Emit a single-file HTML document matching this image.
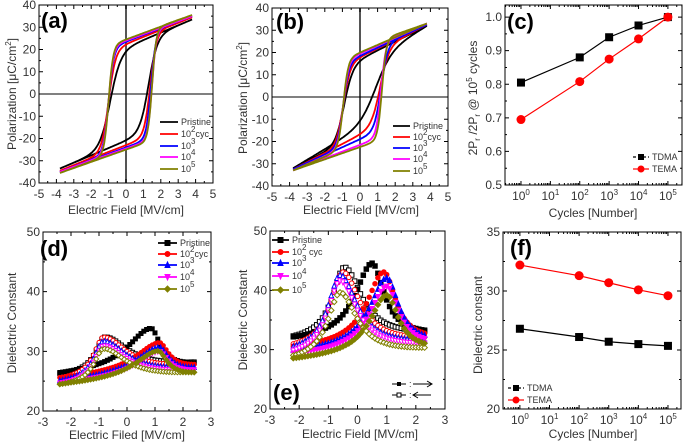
<!DOCTYPE html>
<html><head><meta charset="utf-8"><style>
html,body{margin:0;padding:0;background:#fff;width:685px;height:444px;overflow:hidden}
svg{display:block}
text{font-family:"Liberation Sans",sans-serif;fill:#333}
</style></head><body>
<svg id="s" width="685" height="444" xmlns="http://www.w3.org/2000/svg"></svg>
<script>
const S=document.getElementById('s');let H='';
function t(x,y,str,o={}){H+=`<text x="${x}" y="${y}" font-size="${o.fs||12}" text-anchor="${o.a||'middle'}" ${o.b?'font-weight="bold" style="fill:#000"':''} ${o.r?`transform="rotate(-90 ${x} ${y})"`:''}>${str}</text>`;}
function mk(p){p.X=v=>p.L+(v-p.xmin)/(p.xmax-p.xmin)*(p.R-p.L);p.Y=v=>p.B-(v-p.ymin)/(p.ymax-p.ymin)*(p.B-p.T);return p;}
function frame(p){
 H+=`<rect x="${p.L}" y="${p.T}" width="${p.R-p.L}" height="${p.B-p.T}" fill="none" stroke="#000" stroke-width="1"/>`;
 p.xt.forEach((v,i)=>{const x=p.X(v);H+=`<path d="M${x} ${p.B}v-4M${x} ${p.T}v4" stroke="#000"/>`;t(x,p.B+15,p.xl[i]);});
 if(p.xm)p.xm.forEach(v=>{const x=p.X(v);H+=`<path d="M${x} ${p.B}v-2M${x} ${p.T}v2" stroke="#000"/>`;});
 p.yt.forEach((v,i)=>{const y=p.Y(v);H+=`<path d="M${p.L} ${y}h4M${p.R} ${y}h-4" stroke="#000"/>`;t(p.L-3,y+4,p.yl[i],{a:'end'});});
 if(p.ym)p.ym.forEach(v=>{const y=p.Y(v);H+=`<path d="M${p.L} ${y}h2M${p.R} ${y}h-2" stroke="#000"/>`;});
}
function rng(a,b,s){const r=[];for(let v=a;v<=b+1e-9;v+=s)r.push(+v.toFixed(4));return r;}
const cols=['#000','#f00','#00f','#f0f','#808000'];
const sup=(b,e,a)=>`${b}<tspan dy="-5" font-size="8">${e}</tspan><tspan dy="5">${a||'\u200b'}</tspan>`;
function hyst(p,ser){
 ser.forEach((s,k)=>{const [Ec1,Ec2,A1,A2,w1,w2,P]=s;
  const s1=(P-A1)/3.8,s2=(P-A2)/3.8;let d='';
  for(let E=3.8;E>=-3.8;E-=0.05){const v=A1*Math.tanh((E+Ec1)/w1)+s1*E;d+=(d?'L':'M')+p.X(E).toFixed(1)+' '+p.Y(v).toFixed(1);}
  for(let E=-3.8;E<=3.8;E+=0.05){const v=A2*Math.tanh((E-Ec2)/w2)+s2*E;d+='L'+p.X(E).toFixed(1)+' '+p.Y(v).toFixed(1);}
  H+=`<path d="${d}" fill="none" stroke="${cols[k]}" stroke-width="1.8"/>`;});
}
function hframe(p){
 H+=`<line x1="${p.X(0)}" y1="${p.T}" x2="${p.X(0)}" y2="${p.B}" stroke="#555" stroke-width="2"/>`;
 H+=`<line x1="${p.L}" y1="${p.Y(0)}" x2="${p.R}" y2="${p.Y(0)}" stroke="#000" stroke-width="1"/>`;
}
const xh=rng(-5,5,1),yh=rng(-40,40,10);
const A=mk({L:39,R:213,T:5,B:183,xmin:-5,xmax:5,ymin:-40,ymax:40,xt:xh,xl:xh.map(String),yt:yh,yl:yh.map(String),xm:rng(-4.5,4.5,1),ym:rng(-35,35,10)});
hframe(A);
hyst(A,[[0.9,1.3,21,21,0.6,0.5,33.5],[1.0,1.4,22.5,23,0.4,0.35,34.5],[1.0,1.45,23.5,24,0.3,0.28,35],[1.0,1.5,24,24.5,0.28,0.25,35],[1.0,1.5,24.5,25,0.26,0.24,35.5]]);
frame(A);
const Bp=mk({L:272,R:448,T:8,B:186,xmin:-5,xmax:5,ymin:-40,ymax:40,xt:xh,xl:xh.map(String),yt:yh,yl:yh.map(String),xm:rng(-4.5,4.5,1),ym:rng(-35,35,10)});
hframe(Bp);
hyst(Bp,[[0.9,0.9,17,14,0.5,0.9,32],[0.95,1.15,18,17,0.4,0.5,32.5],[0.95,1.2,18.5,19,0.33,0.38,32.5],[0.95,1.2,19.5,21.5,0.3,0.28,33],[0.95,1.25,20,22.5,0.28,0.25,33]]);
frame(Bp);
function leg(x1,x2,ys,labels,markers){ys.forEach((y,i)=>{H+=`<line x1="${x1}" y1="${y}" x2="${x2}" y2="${y}" stroke="${cols[i]}" stroke-width="1.8"/>`;if(markers)marker(i,(x1+x2)/2,y,true,5);t(x2+3,y+3,labels[i],{a:'start',fs:9});});}
const labs=c=>['Pristine',sup('10','2',c),sup('10','3'),sup('10','4'),sup('10','5')];
leg(160,178,[122,134,146,157,169],labs('cyc'));
leg(393,410,[126,137,148,159,171],labs('cyc'));
function marker(k,x,y,fill,sz){const c=cols[k],f=fill?c:'#fff',r=sz/2;x=+x.toFixed(1);y=+y.toFixed(1);
 if(k==0)H+=`<rect x="${x-r}" y="${y-r}" width="${sz}" height="${sz}" fill="${f}" stroke="${c}"/>`;
 else if(k==1)H+=`<circle cx="${x}" cy="${y}" r="${r}" fill="${f}" stroke="${c}"/>`;
 else if(k==2)H+=`<path d="M${x} ${y-r-0.5}L${x+r} ${y+r}L${x-r} ${y+r}Z" fill="${f}" stroke="${c}"/>`;
 else if(k==3)H+=`<path d="M${x} ${y+r+0.5}L${x+r} ${y-r}L${x-r} ${y-r}Z" fill="${f}" stroke="${c}"/>`;
 else H+=`<path d="M${x} ${y-r-0.5}L${x+r+0.5} ${y}L${x} ${y+r+0.5}L${x-r-0.5} ${y}Z" fill="${f}" stroke="${c}"/>`;
}
function bfly(p,E0,E1,ser,gL,gT,sz){
 ser.forEach((s,k)=>{const [Ef,Pf,Eb,Pb,Lv,Rv]=s;
  const base=E=>Lv+(Rv-Lv)*(E-E0)/(E1-E0);
  const Hf=Pf-base(Ef)-0.3,Hb=Pb-base(Eb)-0.3;
  for(let E=E0;E<=E1+1e-9;E+=0.1){
   const gf=E<Ef?gL:gT, gb=E>Eb?gL:gT;
   const vf=base(E)+Hf/(1+((E-Ef)/gf)**2)-Hf*0.05;
   const vb=base(E)+Hb/(1+((E-Eb)/gb)**2)-Hb*0.05;
   marker(k,p.X(E),p.Y(vb),false,sz);marker(k,p.X(E),p.Y(vf),true,sz);
  }});
}
const xd=rng(-3,3,1),yd=[20,30,40,50];
const D=mk({L:43,R:211,T:232,B:411,xmin:-3,xmax:3,ymin:20,ymax:50,xt:xd,xl:xd.map(String),yt:yd,yl:yd.map(String),xm:rng(-2.5,2.5,1),ym:[25,35,45]});
bfly(D,-2.4,2.4,[[0.85,34.5,-0.8,33,26.2,28],[1.15,32,-0.85,33,25.5,27.6],[1.15,31.2,-0.85,32.3,25,27.1],[1.15,30.5,-0.85,31.5,24.6,26.7],[1.1,30.6,-0.85,31,24.4,26.3]],1.0,0.4,4);
frame(D);
leg(158,177,[243,254,265,277,289],labs('cyc'),true);
const Ep=mk({L:270,R:445,T:231,B:409,xmin:-3,xmax:3,ymin:20,ymax:50,xt:xd,xl:xd.map(String),yt:yd,yl:yd.map(String),xm:rng(-2.5,2.5,1),ym:[25,35,45]});
bfly(Ep,-2.2,2.3,[[0.5,45.5,-0.45,44.8,32,33],[0.9,44,-0.5,44,30.6,32],[1.0,43,-0.6,43.5,30,31.5],[1.0,41.5,-0.6,42.5,29.4,31],[1.0,40,-0.6,40.5,28.6,30.3]],0.7,0.5,4.5);
frame(Ep);
leg(272,289,[240,252,263,276,290],labs(' cyc'),true);
H+=`<line x1="392" y1="384" x2="406" y2="384" stroke="#000"/><rect x="397" y="382" width="4" height="4" fill="#000"/><text x="409" y="387" font-size="9">:</text><path d="M413 384h18M427 381l5 3l-5 3" stroke="#000" fill="none"/>`;
H+=`<line x1="392" y1="395" x2="406" y2="395" stroke="#000"/><rect x="397" y="393" width="4" height="4" fill="#fff" stroke="#000"/><text x="409" y="398" font-size="9">:</text><path d="M413 395h18M418 392l-5 3l5 3" stroke="#000" fill="none"/>`;
function logp(p,series,legY,legX){
 const xs=[0,2,3,4,5];
 [['#000',0],['#f00',1]].forEach(([c,k],i)=>{const ys=series[i];let d='';xs.forEach((x,j)=>{d+=(j?'L':'M')+p.X(x)+' '+p.Y(ys[j]);});
  H+=`<path d="${d}" fill="none" stroke="${c}" stroke-width="1.2"/>`;xs.forEach((x,j)=>{if(k==0)H+=`<rect x="${p.X(x)-4}" y="${p.Y(ys[j])-4}" width="8" height="8" fill="#000"/>`;else H+=`<circle cx="${p.X(x)}" cy="${p.Y(ys[j])}" r="4.5" fill="#f00"/>`;});});
 [['TDMA','#000',0],['TEMA','#f00',1]].forEach(([n,c,k],i)=>{const y=legY[i];H+=`<line x1="${legX}" y1="${y}" x2="${legX+16}" y2="${y}" stroke="${c}" stroke-width="1.2" ${k==0?'stroke-dasharray="3 2"':''}/>`;
  if(k==0)H+=`<rect x="${legX+5}" y="${y-3}" width="6" height="6" fill="#000"/>`;else H+=`<circle cx="${legX+8}" cy="${y}" r="3.5" fill="#f00"/>`;t(legX+19,y+3,n,{a:'start',fs:9});});
}
const minors=[];for(let d=-1;d<6;d++)for(let m=2;m<10;m++){minors.push(d+Math.log10(m));}
const Cp=mk({L:505,R:682,T:5,B:185,xmin:-0.544,xmax:5.48,ymin:0.5,ymax:1.036,xt:[0,1,2,3,4,5],xl:[0,1,2,3,4,5].map(e=>sup('10',e)),yt:[0.5,0.6,0.7,0.8,0.9,1.0],yl:['0.5','0.6','0.7','0.8','0.9','1.0'],ym:[0.55,0.65,0.75,0.85,0.95]});
Cp.xm=minors.filter(v=>v>Cp.xmin&&v<Cp.xmax);
frame(Cp);
logp(Cp,[[0.805,0.88,0.94,0.975,1.0],[0.695,0.808,0.875,0.935,1.0]],[157,169],633);
const F=mk({L:503,R:681,T:232,B:409,xmin:-0.57,xmax:5.44,ymin:20,ymax:35,xt:[0,1,2,3,4,5],xl:[0,1,2,3,4,5].map(e=>sup('10',e)),yt:[20,25,30,35],yl:['20','25','30','35'],ym:[22.5,27.5,32.5]});
F.xm=minors.filter(v=>v>F.xmin&&v<F.xmax);
frame(F);
logp(F,[[26.8,26.1,25.7,25.5,25.35],[32.2,31.3,30.7,30.1,29.6]],[388,400],508);
t(126,214,'Electric Field [MV/cm]');t(361,214,'Electric Field [MV/cm]');t(593,217,'Cycles [Number]');
t(127,439,'Electric Filed [MV/cm]');t(360,438,'Electric Field [MV/cm]');t(593,438,'Cycles [Number]');
t(16,94,'Polarization [μC/cm<tspan dy="-5" font-size="8">2</tspan><tspan dy="5">]</tspan>',{r:1});
t(247,98,'Polarization [μC/cm<tspan dy="-5" font-size="8">2</tspan><tspan dy="5">]</tspan>',{r:1});
t(477,98,'2P<tspan dy="3" font-size="8">r</tspan><tspan dy="-3"> /2P</tspan><tspan dy="3" font-size="8">r</tspan><tspan dy="-3"> @ 10</tspan><tspan dy="-5" font-size="8">5</tspan><tspan dy="5"> cycles</tspan>',{r:1});
t(16,323,'Dielectric Constant',{r:1});t(247,320,'Dielectric Constant',{r:1});t(482,325,'Dielectric constant',{r:1});
t(41,28,'(a)',{a:'start',fs:22,b:1});t(276,29,'(b)',{a:'start',fs:22,b:1});t(507,29,'(c)',{a:'start',fs:22,b:1});
t(40,256,'(d)',{a:'start',fs:22,b:1});t(273,400,'(e)',{a:'start',fs:22,b:1});t(510,255,'(f)',{a:'start',fs:22,b:1});
S.innerHTML=H;
</script>
</body></html>
